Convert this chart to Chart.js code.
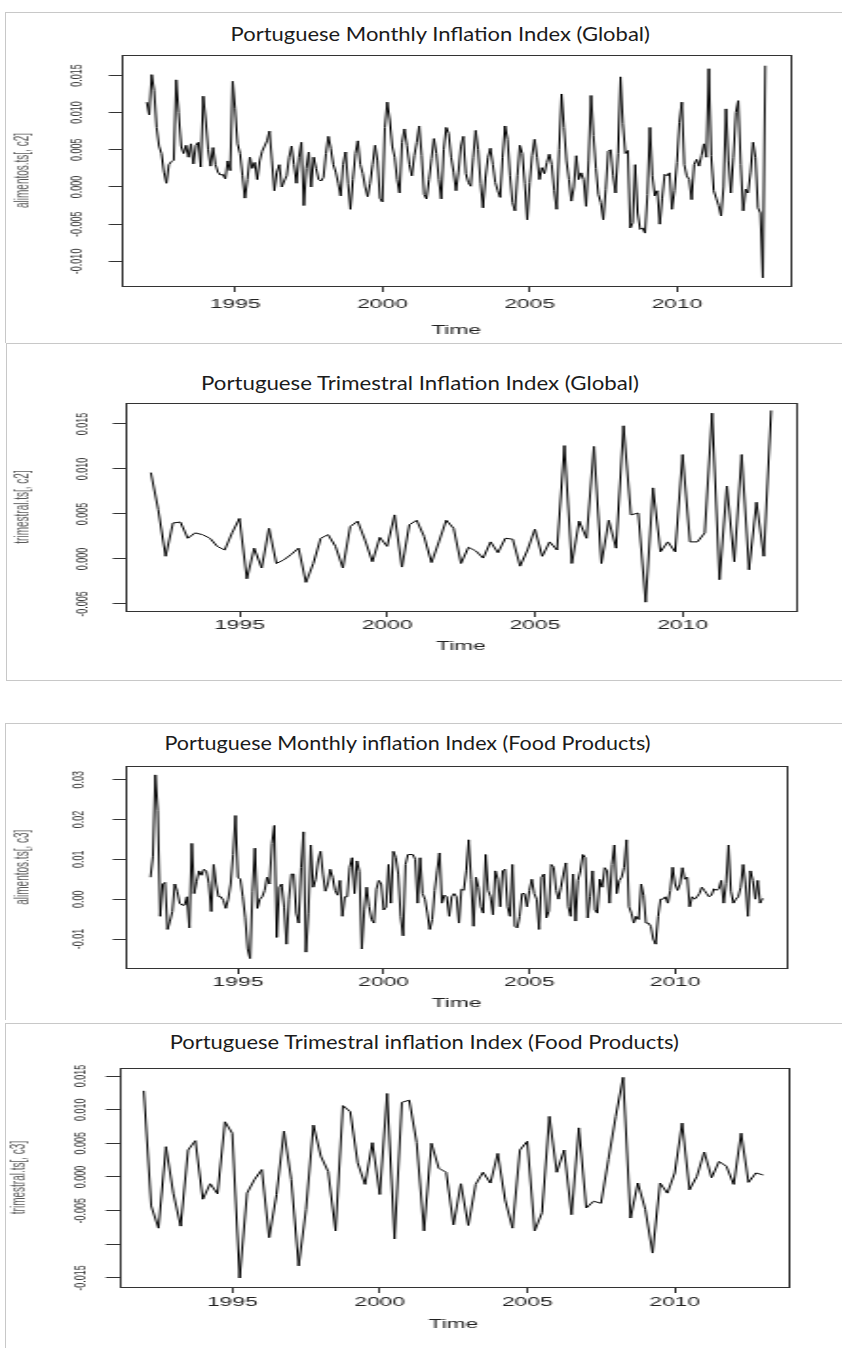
<!DOCTYPE html>
<html>
<head>
<meta charset="utf-8">
<title>Portuguese inflation indices</title>
<script src="https://cdn.jsdelivr.net/npm/chart.js@4.4.1/dist/chart.umd.min.js"></script>
<style>
html, body { margin: 0; padding: 0; background: #fff; }
body { width: 842px; height: 1348px; position: relative; overflow: hidden; }
.frame { position: absolute; border: 1px solid #c8c8c8; box-sizing: border-box; }
.title { position: absolute; white-space: nowrap; font-family: Lato, "Open Sans", sans-serif;
         font-size: 19px; line-height: 1; color: #1b1b1b; transform-origin: center center; }
.wrap { position: absolute; left: 0; transform-origin: 0 0; }
canvas { display: block; }
</style>
</head>
<body>

<div class="frame" style="left:5px;top:12px;width:845px;height:331px;border-bottom:none;"></div>
<div class="frame" style="left:6px;top:343px;width:845px;height:338px;"></div>
<div class="frame" style="left:5px;top:723px;width:845px;height:297px;border-bottom:none;"></div>
<div class="frame" style="left:5px;top:1023px;width:845px;height:330px;"></div>

<div class="title" id="t1">Portuguese Monthly Inflation Index (Global)</div>
<div class="title" id="t2">Portuguese Trimestral Inflation Index (Global)</div>
<div class="title" id="t3">Portuguese Monthly inflation Index (Food Products)</div>
<div class="title" id="t4">Portuguese Trimestral inflation Index (Food Products)</div>

<div class="wrap" id="w1"><canvas id="c1"></canvas></div>
<div class="wrap" id="w2"><canvas id="c2"></canvas></div>
<div class="wrap" id="w3"><canvas id="c3"></canvas></div>
<div class="wrap" id="w4"><canvas id="c4"></canvas></div>

<script>
// ---- data ----
const startYear = 1992;
const xTickYears = [1995, 2000, 2005, 2010];
const xTickLabels = ['1995', '2000', '2005', '2010'];

// monthly, global index, Jan 1992 ...
const globalMonthly = [
  0.0114, 0.0097, 0.0151, 0.0130, 0.0080, 0.0055, 0.0045, 0.0020, 0.0005, 0.0030, 0.0034, 0.0036,
  0.0144, 0.0100, 0.0055, 0.0045, 0.0056, 0.0040, 0.0058, 0.0031, 0.0056, 0.0060, 0.0027, 0.0122,
  0.0090, 0.0050, 0.0028, 0.0053, 0.0030, 0.0020, 0.0016, 0.0017, 0.0011, 0.0035, 0.0022, 0.0142,
  0.0105, 0.0058, 0.0045, 0.0015, -0.0015, 0.0010, 0.0040, 0.0025, 0.0033, 0.0010, 0.0035, 0.0048,
  0.0055, 0.0062, 0.0075, 0.0035, -0.0005, 0.0020, 0.0030, 0.0000, 0.0008, 0.0015, 0.0040, 0.0055,
  0.0030, 0.0005, 0.0040, 0.0060, -0.0025, 0.0025, 0.0047, 0.0000, 0.0040, 0.0025, 0.0010, 0.0008,
  0.0013, 0.0045, 0.0068, 0.0052, 0.0030, 0.0020, 0.0005, -0.0012, 0.0030, 0.0047, 0.0005, -0.0030,
  0.0010, 0.0045, 0.0062, 0.0030, 0.0018, 0.0000, -0.0013, 0.0005, 0.0030, 0.0056, 0.0035, -0.0015,
  -0.0020, 0.0080, 0.0114, 0.0090, 0.0055, 0.0040, 0.0010, -0.0008, 0.0060, 0.0078, 0.0056, 0.0030,
  0.0015, 0.0042, 0.0060, 0.0082, 0.0042, -0.0010, -0.0016, 0.0010, 0.0038, 0.0065, 0.0045, 0.0010,
  -0.0016, 0.0050, 0.0080, 0.0072, 0.0040, 0.0020, -0.0005, 0.0020, 0.0055, 0.0068, 0.0018, 0.0006,
  0.0001, 0.0040, 0.0076, 0.0050, 0.0005, -0.0028, 0.0012, 0.0040, 0.0052, 0.0030, 0.0006, -0.0005,
  -0.0014, 0.0040, 0.0082, 0.0064, 0.0015, -0.0021, -0.0032, 0.0015, 0.0056, 0.0045, 0.0005, -0.0044,
  0.0006, 0.0042, 0.0064, 0.0040, 0.0010, 0.0026, 0.0018, 0.0033, 0.0044, 0.0030, -0.0005, -0.0030,
  0.0050, 0.0125, 0.0080, 0.0035, 0.0010, -0.0019, 0.0000, 0.0042, 0.0010, 0.0019, 0.0010, -0.0026,
  0.0035, 0.0123, 0.0069, 0.0025, -0.0010, -0.0021, -0.0044, -0.0003, 0.0048, 0.0050, 0.0015, -0.0008,
  0.0045, 0.0148, 0.0085, 0.0045, 0.0049, -0.0055, -0.0048, 0.0030, -0.0035, -0.0057, -0.0055, -0.0062,
  -0.0010, 0.0080, 0.0015, -0.0012, -0.0005, -0.0050, -0.0015, 0.0017, 0.0015, 0.0019, -0.0030, -0.0005,
  0.0033, 0.0087, 0.0114, 0.0030, 0.0015, 0.0010, -0.0017, 0.0030, 0.0037, 0.0028, 0.0042, 0.0058,
  0.0040, 0.0159, 0.0042, -0.0005, -0.0015, -0.0025, -0.0039, 0.0000, 0.0105, 0.0035, -0.0008, 0.0040,
  0.0100, 0.0116, 0.0030, -0.0032, -0.0003, -0.0008, 0.0020, 0.0060, 0.0040, -0.0028, -0.0035, -0.0122,
  0.0163
];

// quarterly, global index, 1992 Q1 ...
const globalTrimestral = [
  0.0096, 0.0055, 0.0003, 0.0040, 0.0041, 0.0023, 0.0029, 0.0027, 0.0023, 0.0014, 0.0010, 0.0029,
  0.0045, -0.0022, 0.0012, -0.0010, 0.0034, -0.0005, -0.0001, 0.0005, 0.0012, -0.0026, -0.0005, 0.0023,
  0.0027, 0.0014, -0.0010, 0.0036, 0.0042, 0.0021, -0.0003, 0.0024, 0.0014, 0.0049, -0.0009, 0.0038,
  0.0043, 0.0025, -0.0004, 0.0019, 0.0043, 0.0034, -0.0005, 0.0013, 0.0009, 0.0001, 0.0019, 0.0007,
  0.0023, 0.0022, -0.0008, 0.0010, 0.0033, 0.0003, 0.0019, 0.0010, 0.0126, -0.0005, 0.0042, 0.0023,
  0.0125, -0.0005, 0.0043, 0.0012, 0.0148, 0.0049, 0.0051, -0.0048, 0.0079, 0.0008, 0.0019, 0.0008,
  0.0116, 0.0019, 0.0019, 0.0029, 0.0162, -0.0023, 0.0081, -0.0003, 0.0116, -0.0012, 0.0063, 0.0003,
  0.0165
];

// monthly, food products, Jan 1992 ...
const foodMonthly = [
  0.0055, 0.0108, 0.0312, 0.0222, -0.0043, 0.0038, 0.0042, -0.0076, -0.0055, -0.0031, 0.0038, 0.0020,
  -0.0010, -0.0015, -0.0015, 0.0006, -0.0072, 0.0140, 0.0014, 0.0045, 0.0071, 0.0060, 0.0075, 0.0070,
  0.0040, -0.0031, 0.0087, 0.0038, 0.0006, 0.0006, -0.0003, -0.0023, 0.0000, 0.0038, 0.0112, 0.0210,
  0.0055, 0.0050, 0.0006, -0.0047, -0.0125, -0.0149, 0.0020, 0.0128, -0.0023, 0.0000, 0.0006, 0.0022,
  0.0055, 0.0038, 0.0140, 0.0185, -0.0096, 0.0030, 0.0038, -0.0020, -0.0113, 0.0000, 0.0063, 0.0063,
  -0.0035, -0.0060, 0.0079, 0.0169, -0.0133, -0.0035, 0.0136, 0.0030, 0.0050, 0.0096, 0.0120, 0.0063,
  0.0020, 0.0038, 0.0075, 0.0055, 0.0022, 0.0010, 0.0047, -0.0043, 0.0006, 0.0006, 0.0080, 0.0104,
  0.0014, 0.0096, 0.0070, -0.0125, -0.0027, 0.0030, -0.0018, -0.0051, -0.0060, 0.0025, 0.0047, 0.0038,
  -0.0027, -0.0020, 0.0087, -0.0010, 0.0120, 0.0104, 0.0063, -0.0043, -0.0092, 0.0087, 0.0112, 0.0112,
  0.0112, 0.0100, -0.0010, 0.0104, 0.0014, 0.0000, -0.0035, -0.0076, -0.0051, 0.0022, 0.0071, 0.0116,
  -0.0010, 0.0010, 0.0006, -0.0043, 0.0006, 0.0014, 0.0006, -0.0060, 0.0025, 0.0022, 0.0071, 0.0149,
  0.0050, -0.0068, 0.0055, 0.0030, -0.0019, -0.0035, 0.0112, 0.0022, 0.0006, -0.0039, 0.0071, 0.0050,
  -0.0019, 0.0071, 0.0075, -0.0019, -0.0043, 0.0087, -0.0068, -0.0072, -0.0043, 0.0014, 0.0014, -0.0019,
  0.0022, 0.0050, 0.0014, 0.0000, -0.0076, 0.0055, 0.0063, -0.0047, -0.0030, 0.0087, 0.0080, 0.0022,
  0.0000, 0.0030, 0.0063, 0.0091, -0.0019, -0.0043, 0.0063, -0.0055, 0.0047, 0.0071, 0.0112, 0.0104,
  -0.0047, 0.0006, 0.0071, -0.0027, -0.0035, 0.0050, 0.0030, 0.0079, 0.0071, -0.0010, 0.0087, 0.0136,
  0.0014, 0.0047, 0.0055, 0.0080, 0.0149, -0.0019, -0.0035, -0.0060, -0.0043, -0.0051, 0.0038, 0.0010,
  -0.0060, -0.0060, -0.0068, -0.0100, -0.0113, -0.0043, 0.0000, 0.0000, 0.0006, -0.0010, 0.0022, 0.0080,
  0.0038, 0.0022, 0.0038, 0.0079, 0.0050, 0.0055, -0.0019, 0.0006, 0.0000, 0.0006, 0.0014, 0.0030,
  0.0022, 0.0014, 0.0006, 0.0010, 0.0026, 0.0022, 0.0026, 0.0047, -0.0010, 0.0040, 0.0136, 0.0020,
  -0.0010, 0.0000, 0.0006, 0.0030, 0.0087, 0.0038, -0.0043, 0.0071, 0.0047, 0.0000, 0.0047, -0.0010,
  0.0002
];

// quarterly, food products, 1992 Q1 ...
const foodTrimestral = [
  0.0128, -0.0043, -0.0076, 0.0045, -0.0024, -0.0073, 0.0040, 0.0054, -0.0033, -0.0010, -0.0025, 0.0082,
  0.0065, -0.0150, -0.0024, -0.0004, 0.0011, -0.0090, -0.0026, 0.0068, -0.0004, -0.0132, -0.0048, 0.0077,
  0.0031, 0.0008, -0.0080, 0.0106, 0.0097, 0.0021, -0.0011, 0.0051, -0.0026, 0.0124, -0.0092, 0.0111,
  0.0114, 0.0051, -0.0080, 0.0050, 0.0013, 0.0007, -0.0071, -0.0010, -0.0072, -0.0011, 0.0007, -0.0009,
  0.0035, -0.0034, -0.0076, 0.0040, 0.0053, -0.0080, -0.0053, 0.0090, 0.0007, 0.0040, -0.0056, 0.0073,
  -0.0046, -0.0036, -0.0039, 0.0026, 0.0090, 0.0148, -0.0061, -0.0009, -0.0048, -0.0113, -0.0009, -0.0024,
  0.0006, 0.0080, -0.0019, 0.0001, 0.0037, -0.0001, 0.0023, 0.0016, -0.0011, 0.0065, -0.0008, 0.0006,
  0.0003
];

// y axis ticks as R printed them
const globalMonthlyTicks = [-0.010, -0.005, 0, 0.005, 0.010, 0.015];
const globalMonthlyTickLabels = ['-0.010', '-0.005', '0.000', '0.005', '0.010', '0.015'];
const globalTrimTicks = [-0.005, 0, 0.005, 0.010, 0.015];
const globalTrimTickLabels = ['-0.005', '0.000', '0.005', '0.010', '0.015'];
const foodMonthlyTicks = [-0.01, 0, 0.01, 0.02, 0.03];
const foodMonthlyTickLabels = ['-0.01', '0.00', '0.01', '0.02', '0.03'];
const foodTrimTicks = [-0.015, -0.010, -0.005, 0, 0.005, 0.010, 0.015];
const foodTrimTickLabels = ['-0.015', '', '-0.005', '0.000', '0.005', '0.010', '0.015'];

// ---- layout ----
const STRETCH = 1.9;          // the source image was stretched horizontally
const CANVAS_W = 443;
const X_FONT = 12, Y_FONT = 9, Y_TITLE_FONT = 10;
const X_TICK_LEN = 6, Y_TICK_LEN = 7;
const FONT_FAMILY = '"Liberation Sans", Arial, sans-serif';

const panels = [
  { canvas: 'c1', wrap: 'w1', title: 't1', titleX: 440, titleY: 33, titleW: 419,
    top: 45, height: 295, plotLeft: 122, plotRight: 790, plotTop: 55, plotBottom: 286,
    xLabelY: 305, timeY: 331, yLabelX: 77, yTitleX: 24,
    values: globalMonthly, freq: 12, yMin: -0.01331, yMax: 0.01774,
    yTicks: globalMonthlyTicks, yTickLabels: globalMonthlyTickLabels, yTitle: 'alimentos.ts[, c2]' },
  { canvas: 'c2', wrap: 'w2', title: 't2', titleX: 420, titleY: 382, titleW: 438,
    top: 393, height: 263, plotLeft: 126, plotRight: 796, plotTop: 403, plotBottom: 611,
    xLabelY: 626, timeY: 647, yLabelX: 82, yTitleX: 24,
    values: globalTrimestral, freq: 4, yMin: -0.00578, yMax: 0.01733,
    yTicks: globalTrimTicks, yTickLabels: globalTrimTickLabels, yTitle: 'trimestral.ts[, c2]' },
  { canvas: 'c3', wrap: 'w3', title: 't3', titleX: 407, titleY: 742, titleW: 486,
    top: 753, height: 260, plotLeft: 126, plotRight: 787, plotTop: 763, plotBottom: 968,
    xLabelY: 983, timeY: 1004, yLabelX: 78, yTitleX: 24,
    values: foodMonthly, freq: 12, yMin: -0.01728, yMax: 0.03333,
    yTicks: foodMonthlyTicks, yTickLabels: foodMonthlyTickLabels, yTitle: 'alimentos.ts[, c3]' },
  { canvas: 'c4', wrap: 'w4', title: 't4', titleX: 424, titleY: 1041, titleW: 510,
    top: 1058, height: 276, plotLeft: 119, plotRight: 788, plotTop: 1068, plotBottom: 1287,
    xLabelY: 1303, timeY: 1325, yLabelX: 81, yTitleX: 20,
    values: foodTrimestral, freq: 4, yMin: -0.01634, yMax: 0.01619,
    yTicks: foodTrimTicks, yTickLabels: foodTrimTickLabels, yTitle: 'trimestral.ts[, c3]' }
];

// R draws a full box round the plot region
const plotBox = {
  id: 'plotBox',
  afterDatasetsDraw(chart) {
    const { ctx, chartArea: a } = chart;
    ctx.save();
    ctx.strokeStyle = '#333';
    ctx.lineWidth = 1;
    ctx.strokeRect(Math.round(a.left) + 0.5, Math.round(a.top) + 0.5,
                   Math.round(a.right - a.left), Math.round(a.bottom - a.top));
    ctx.restore();
  }
};

const measureCtx = document.createElement('canvas').getContext('2d');
function widestLabel(labels, size) {
  measureCtx.font = size + 'px ' + FONT_FAMILY;
  return Math.max(...labels.map(l => measureCtx.measureText(l).width));
}

function placeTitle(p) {
  const el = document.getElementById(p.title);
  const natural = el.offsetWidth;
  const k = p.titleW / natural;
  el.style.left = (p.titleX - natural / 2) + 'px';
  el.style.top = (p.titleY - el.offsetHeight / 2) + 'px';
  el.style.transform = 'scaleX(' + k.toFixed(3) + ')';
}

function buildPanel(p) {
  const S = STRETCH;
  const wrap = document.getElementById(p.wrap);
  wrap.style.top = p.top + 'px';
  wrap.style.transform = 'scaleX(' + S + ')';
  const canvas = document.getElementById(p.canvas);
  canvas.width = CANVAS_W;
  canvas.height = p.height;

  const chartBottom = p.plotBottom - p.top;
  const xAxisH = p.height - chartBottom;
  const leftU = p.plotLeft / S;
  const rightU = p.plotRight / S;
  const xTickPad = (p.xLabelY - p.top) - chartBottom - X_TICK_LEN - X_FONT * 0.6;
  const timePad = p.height - (p.timeY - p.top) - X_FONT * 0.6;
  const yTickPad = leftU - p.yLabelX / S - Y_TICK_LEN - widestLabel(p.yTickLabels, Y_FONT) / 2;
  const yTitlePad = p.yTitleX / S - Y_TITLE_FONT * 0.6;

  const points = p.values.map((v, i) => ({ x: startYear + i / p.freq, y: v }));

  new Chart(canvas, {
    type: 'line',
    data: {
      datasets: [{
        data: points,
        borderColor: '#000',
        borderWidth: 1,
        pointRadius: 0,
        tension: 0,
        fill: false
      }]
    },
    options: {
      responsive: false,
      maintainAspectRatio: false,
      animation: false,
      events: [],
      layout: { padding: { left: 0, top: p.plotTop - p.top, right: CANVAS_W - rightU, bottom: 0 } },
      plugins: { legend: { display: false }, tooltip: { enabled: false }, title: { display: false } },
      scales: {
        x: {
          type: 'linear',
          min: 1991.16,
          max: 2013.84,
          afterBuildTicks: axis => { axis.ticks = xTickYears.map(v => ({ value: v })); },
          afterFit: axis => { axis.height = xAxisH; },
          ticks: {
            autoSkip: false,
            maxRotation: 0,
            padding: xTickPad,
            color: '#222',
            font: { family: FONT_FAMILY, size: X_FONT },
            callback: (value, index) => xTickLabels[index]
          },
          grid: { display: true, drawOnChartArea: false, drawTicks: true, tickLength: X_TICK_LEN, color: '#333' },
          border: { display: false },
          title: {
            display: true, text: 'Time', color: '#222',
            font: { family: FONT_FAMILY, size: X_FONT },
            padding: { top: 0, bottom: timePad }
          }
        },
        y: {
          type: 'linear',
          min: p.yMin,
          max: p.yMax,
          afterBuildTicks: axis => { axis.ticks = p.yTicks.map(v => ({ value: v })); },
          afterFit: axis => { axis.width = leftU; },
          ticks: {
            autoSkip: false,
            minRotation: 90,
            maxRotation: 90,
            crossAlign: 'center',
            padding: yTickPad,
            color: '#333',
            font: { family: FONT_FAMILY, size: Y_FONT },
            callback: (value, index) => p.yTickLabels[index]
          },
          grid: { display: true, drawOnChartArea: false, drawTicks: true, tickLength: Y_TICK_LEN, color: '#333' },
          border: { display: false },
          title: {
            display: true, text: p.yTitle, color: '#5a5a5a',
            font: { family: FONT_FAMILY, size: Y_TITLE_FONT },
            padding: { top: yTitlePad, bottom: 0 }
          }
        }
      }
    },
    plugins: [plotBox]
  });
}

panels.forEach(p => { placeTitle(p); buildPanel(p); });
</script>
</body>
</html>
